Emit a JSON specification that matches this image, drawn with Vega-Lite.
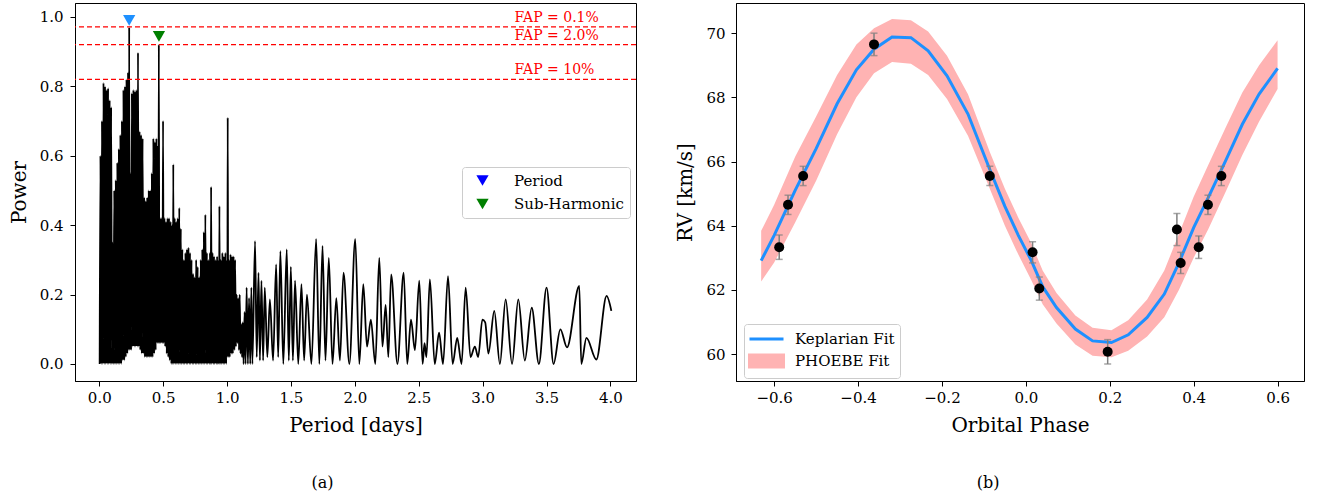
{
"$schema": "https://vega.github.io/schema/vega-lite/v6.json",
"padding": {"left": 8, "top": 2, "right": 10, "bottom": 5},
"spacing": 37,
"datasets": {
"pg": [
{"p":0.003,"pw":0.0},{"p":0.009,"pw":0.60},{"p":0.015,"pw":0.0},{"p":0.021,"pw":0.70},{"p":0.027,"pw":0.0},{"p":0.033,"pw":0.81},{"p":0.039,"pw":0.0},{"p":0.045,"pw":0.80},{"p":0.051,"pw":0.0},{"p":0.057,"pw":0.79},{"p":0.063,"pw":0.0},{"p":0.069,"pw":0.795},{"p":0.075,"pw":0.0},{"p":0.081,"pw":0.76},{"p":0.087,"pw":0.0},{"p":0.093,"pw":0.74},{"p":0.099,"pw":0.0},{"p":0.105,"pw":0.35},{"p":0.111,"pw":0.0},{"p":0.117,"pw":0.50},{"p":0.123,"pw":0.0},{"p":0.129,"pw":0.53},{"p":0.135,"pw":0.0},{"p":0.141,"pw":0.58},{"p":0.147,"pw":0.0},{"p":0.153,"pw":0.62},{"p":0.159,"pw":0.0},{"p":0.165,"pw":0.66},{"p":0.171,"pw":0.0},{"p":0.177,"pw":0.70},{"p":0.183,"pw":0.01},{"p":0.189,"pw":0.79},{"p":0.195,"pw":0.01},{"p":0.201,"pw":0.80},{"p":0.207,"pw":0.02},{"p":0.213,"pw":0.82},{"p":0.219,"pw":0.03},{"p":0.225,"pw":0.84},{"p":0.231,"pw":0.04},{"p":0.234,"pw":0.97},{"p":0.238,"pw":0.04},{"p":0.243,"pw":0.55},{"p":0.249,"pw":0.04},{"p":0.255,"pw":0.78},{"p":0.261,"pw":0.05},{"p":0.267,"pw":0.79},{"p":0.273,"pw":0.05},{"p":0.279,"pw":0.785},{"p":0.285,"pw":0.05},{"p":0.291,"pw":0.79},{"p":0.297,"pw":0.05},{"p":0.303,"pw":0.897},{"p":0.309,"pw":0.05},{"p":0.315,"pw":0.67},{"p":0.321,"pw":0.04},{"p":0.327,"pw":0.66},{"p":0.333,"pw":0.03},{"p":0.339,"pw":0.65},{"p":0.345,"pw":0.03},{"p":0.351,"pw":0.48},{"p":0.357,"pw":0.02},{"p":0.363,"pw":0.47},{"p":0.369,"pw":0.02},{"p":0.375,"pw":0.48},{"p":0.381,"pw":0.02},{"p":0.387,"pw":0.50},{"p":0.393,"pw":0.02},{"p":0.399,"pw":0.50},{"p":0.405,"pw":0.02},{"p":0.411,"pw":0.55},{"p":0.417,"pw":0.02},{"p":0.423,"pw":0.65},{"p":0.429,"pw":0.03},{"p":0.435,"pw":0.64},{"p":0.441,"pw":0.04},{"p":0.447,"pw":0.65},{"p":0.453,"pw":0.06},{"p":0.459,"pw":0.63},{"p":0.462,"pw":0.06},{"p":0.466,"pw":0.92},{"p":0.470,"pw":0.06},{"p":0.476,"pw":0.42},{"p":0.482,"pw":0.06},{"p":0.488,"pw":0.42},{"p":0.494,"pw":0.06},{"p":0.499,"pw":0.70},{"p":0.504,"pw":0.06},{"p":0.510,"pw":0.42},{"p":0.516,"pw":0.05},{"p":0.522,"pw":0.41},{"p":0.528,"pw":0.03},{"p":0.534,"pw":0.42},{"p":0.540,"pw":0.02},{"p":0.546,"pw":0.42},{"p":0.552,"pw":0.01},{"p":0.558,"pw":0.41},{"p":0.564,"pw":0.0},{"p":0.570,"pw":0.40},{"p":0.576,"pw":0.0},{"p":0.579,"pw":0.575},{"p":0.584,"pw":0.0},{"p":0.590,"pw":0.42},{"p":0.596,"pw":0.0},{"p":0.602,"pw":0.41},{"p":0.608,"pw":0.0},{"p":0.614,"pw":0.42},{"p":0.620,"pw":0.0},{"p":0.626,"pw":0.45},{"p":0.632,"pw":0.0},{"p":0.638,"pw":0.39},{"p":0.644,"pw":0.0},{"p":0.650,"pw":0.33},{"p":0.656,"pw":0.0},{"p":0.662,"pw":0.30},{"p":0.668,"pw":0.0},{"p":0.674,"pw":0.32},{"p":0.680,"pw":0.0},{"p":0.686,"pw":0.33},{"p":0.692,"pw":0.0},{"p":0.698,"pw":0.335},{"p":0.704,"pw":0.0},{"p":0.710,"pw":0.32},{"p":0.716,"pw":0.0},{"p":0.722,"pw":0.30},{"p":0.728,"pw":0.0},{"p":0.734,"pw":0.26},{"p":0.740,"pw":0.0},{"p":0.746,"pw":0.25},{"p":0.752,"pw":0.0},{"p":0.758,"pw":0.30},{"p":0.764,"pw":0.0},{"p":0.770,"pw":0.28},{"p":0.776,"pw":0.0},{"p":0.782,"pw":0.25},{"p":0.788,"pw":0.0},{"p":0.794,"pw":0.30},{"p":0.800,"pw":0.0},{"p":0.806,"pw":0.33},{"p":0.812,"pw":0.0},{"p":0.818,"pw":0.38},{"p":0.824,"pw":0.0},{"p":0.830,"pw":0.43},{"p":0.836,"pw":0.0},{"p":0.842,"pw":0.32},{"p":0.848,"pw":0.0},{"p":0.854,"pw":0.30},{"p":0.860,"pw":0.0},{"p":0.866,"pw":0.32},{"p":0.872,"pw":0.0},{"p":0.875,"pw":0.51},{"p":0.880,"pw":0.0},{"p":0.886,"pw":0.32},{"p":0.892,"pw":0.0},{"p":0.898,"pw":0.31},{"p":0.904,"pw":0.0},{"p":0.910,"pw":0.30},{"p":0.916,"pw":0.0},{"p":0.922,"pw":0.31},{"p":0.928,"pw":0.0},{"p":0.934,"pw":0.30},{"p":0.937,"pw":0.0},{"p":0.940,"pw":0.455},{"p":0.945,"pw":0.0},{"p":0.951,"pw":0.30},{"p":0.957,"pw":0.0},{"p":0.963,"pw":0.32},{"p":0.969,"pw":0.0},{"p":0.975,"pw":0.31},{"p":0.981,"pw":0.0},{"p":0.987,"pw":0.32},{"p":0.993,"pw":0.0},{"p":0.999,"pw":0.30},{"p":1.002,"pw":0.02},{"p":1.005,"pw":0.71},{"p":1.009,"pw":0.02},{"p":1.015,"pw":0.30},{"p":1.021,"pw":0.02},{"p":1.027,"pw":0.316},{"p":1.033,"pw":0.03},{"p":1.039,"pw":0.31},{"p":1.045,"pw":0.03},{"p":1.051,"pw":0.31},{"p":1.057,"pw":0.04},{"p":1.063,"pw":0.30},{"p":1.069,"pw":0.05},{"p":1.075,"pw":0.20},{"p":1.081,"pw":0.06},{"p":1.087,"pw":0.19},{"p":1.093,"pw":0.04},{"p":1.099,"pw":0.20},{"p":1.105,"pw":0.03},{"p":1.111,"pw":0.115},{"p":1.117,"pw":0.02},{"p":1.123,"pw":0.12},{"p":1.129,"pw":0.0},{"p":1.137,"pw":0.15},{"p":1.145,"pw":0.0},{"p":1.153,"pw":0.22},{"p":1.163,"pw":0.0},{"p":1.172,"pw":0.19},{"p":1.181,"pw":0.0},{"p":1.190,"pw":0.22},{"p":1.198,"pw":0.0},
{"p":1.219,"pw":0.354},{"p":1.232,"pw":0.02},{"p":1.246,"pw":0.263},{"p":1.257,"pw":0.01},{"p":1.269,"pw":0.24},{"p":1.282,"pw":0.01},{"p":1.295,"pw":0.22},{"p":1.315,"pw":0.02},{"p":1.335,"pw":0.186},{"p":1.36,"pw":0.01},{"p":1.384,"pw":0.287},{"p":1.40,"pw":0.02},{"p":1.417,"pw":0.325},{"p":1.44,"pw":0.0},{"p":1.467,"pw":0.33},{"p":1.483,"pw":0.01},{"p":1.499,"pw":0.28},{"p":1.515,"pw":0.01},{"p":1.532,"pw":0.24},{"p":1.557,"pw":0.0},{"p":1.582,"pw":0.23},{"p":1.603,"pw":0.01},{"p":1.625,"pw":0.20},{"p":1.66,"pw":0.0},{"p":1.697,"pw":0.36},{"p":1.722,"pw":0.0},{"p":1.747,"pw":0.34},{"p":1.77,"pw":0.01},{"p":1.796,"pw":0.306},{"p":1.825,"pw":0.0},{"p":1.855,"pw":0.19},{"p":1.883,"pw":0.01},{"p":1.911,"pw":0.263},{"p":1.957,"pw":0.0},{"p":2.003,"pw":0.36},{"p":2.035,"pw":0.0},{"p":2.066,"pw":0.23},{"p":2.095,"pw":0.05},{"p":2.125,"pw":0.128},{"p":2.16,"pw":0.0},{"p":2.191,"pw":0.306},{"p":2.216,"pw":0.05},{"p":2.241,"pw":0.17},{"p":2.262,"pw":0.02},{"p":2.284,"pw":0.258},{"p":2.333,"pw":0.0},{"p":2.382,"pw":0.263},{"p":2.41,"pw":0.0},{"p":2.439,"pw":0.128},{"p":2.47,"pw":0.04},{"p":2.504,"pw":0.24},{"p":2.53,"pw":0.0},{"p":2.545,"pw":0.06},{"p":2.56,"pw":0.02},{"p":2.587,"pw":0.244},{"p":2.625,"pw":0.0},{"p":2.659,"pw":0.09},{"p":2.69,"pw":0.0},{"p":2.729,"pw":0.253},{"p":2.765,"pw":0.0},{"p":2.801,"pw":0.075},{"p":2.835,"pw":0.0},{"p":2.867,"pw":0.22},{"p":2.905,"pw":0.02},{"p":2.939,"pw":0.05},{"p":2.965,"pw":0.02},{"p":2.998,"pw":0.128},{"p":3.02,"pw":0.12},{"p":3.045,"pw":0.03},{"p":3.091,"pw":0.153},{"p":3.135,"pw":0.0},{"p":3.18,"pw":0.186},{"p":3.23,"pw":0.0},{"p":3.279,"pw":0.186},{"p":3.33,"pw":0.01},{"p":3.384,"pw":0.162},{"p":3.44,"pw":0.0},{"p":3.5,"pw":0.22},{"p":3.555,"pw":0.0},{"p":3.608,"pw":0.10},{"p":3.66,"pw":0.048},{"p":3.756,"pw":0.225},{"p":3.772,"pw":0.0},{"p":3.812,"pw":0.075},{"p":3.89,"pw":0.013},{"p":3.97,"pw":0.196},{"p":4.007,"pw":0.153}
],
"fap": [
{"fap":0.971,"label":"FAP = 0.1%"},
{"fap":0.920,"label":"FAP = 2.0%"},
{"fap":0.820,"label":"FAP = 10%"}
],
"peaks": [
{"p":0.234,"pw":0.99,"kind":"Period"},
{"p":0.467,"pw":0.944,"kind":"Sub-Harmonic"}
],
"fit": [
{"ph":-0.631,"kep":62.91,"lo":62.26,"hi":63.84},
{"ph":-0.6,"kep":63.7,"lo":62.85,"hi":64.65},
{"ph":-0.55,"kep":65.1,"lo":64.1,"hi":66.15},
{"ph":-0.5,"kep":66.4,"lo":65.4,"hi":67.4},
{"ph":-0.45,"kep":67.8,"lo":66.85,"hi":68.7},
{"ph":-0.404,"kep":68.86,"lo":68.0,"hi":69.65},
{"ph":-0.362,"kep":69.5,"lo":68.75,"hi":70.15},
{"ph":-0.319,"kep":69.88,"lo":69.1,"hi":70.44},
{"ph":-0.274,"kep":69.86,"lo":69.05,"hi":70.4},
{"ph":-0.233,"kep":69.45,"lo":68.7,"hi":70.05},
{"ph":-0.188,"kep":68.67,"lo":67.95,"hi":69.3},
{"ph":-0.138,"kep":67.48,"lo":66.8,"hi":68.1},
{"ph":-0.086,"kep":65.75,"lo":65.15,"hi":66.3},
{"ph":-0.05,"kep":64.6,"lo":64.0,"hi":65.15},
{"ph":-0.018,"kep":63.7,"lo":63.1,"hi":64.25},
{"ph":0.013,"kep":62.91,"lo":62.3,"hi":63.45},
{"ph":0.04,"kep":62.1,"lo":61.55,"hi":62.6},
{"ph":0.073,"kep":61.45,"lo":60.95,"hi":61.9},
{"ph":0.118,"kep":60.78,"lo":60.3,"hi":61.2},
{"ph":0.159,"kep":60.41,"lo":59.95,"hi":60.82},
{"ph":0.204,"kep":60.36,"lo":59.9,"hi":60.74},
{"ph":0.244,"kep":60.6,"lo":60.1,"hi":61.05},
{"ph":0.289,"kep":61.14,"lo":60.55,"hi":61.7},
{"ph":0.33,"kep":61.87,"lo":61.15,"hi":62.6},
{"ph":0.365,"kep":62.85,"lo":62.0,"hi":63.75},
{"ph":0.4,"kep":63.94,"lo":63.0,"hi":64.9},
{"ph":0.435,"kep":64.88,"lo":63.9,"hi":65.9},
{"ph":0.476,"kep":66.02,"lo":65.05,"hi":67.05},
{"ph":0.516,"kep":67.16,"lo":66.2,"hi":68.15},
{"ph":0.556,"kep":68.1,"lo":67.25,"hi":69.0},
{"ph":0.6,"kep":68.9,"lo":68.26,"hi":69.78}
],
"rv": [
{"ph":-0.588,"v":63.33,"lo":62.95,"hi":63.71},
{"ph":-0.567,"v":64.65,"lo":64.35,"hi":64.95},
{"ph":-0.531,"v":65.55,"lo":65.25,"hi":65.85},
{"ph":-0.362,"v":69.65,"lo":69.3,"hi":70.0},
{"ph":-0.086,"v":65.55,"lo":65.25,"hi":65.85},
{"ph":0.016,"v":63.17,"lo":62.84,"hi":63.5},
{"ph":0.032,"v":62.04,"lo":61.68,"hi":62.4},
{"ph":0.195,"v":60.07,"lo":59.69,"hi":60.45},
{"ph":0.36,"v":63.88,"lo":63.38,"hi":64.38},
{"ph":0.369,"v":62.84,"lo":62.51,"hi":63.17},
{"ph":0.412,"v":63.33,"lo":62.98,"hi":63.68},
{"ph":0.434,"v":64.65,"lo":64.35,"hi":64.95},
{"ph":0.466,"v":65.55,"lo":65.25,"hi":65.85}
]
},
"hconcat": [
{
"width": 561, "height": 378,
"title": {"text": "(a)", "orient": "bottom", "offset": 40, "dx": -33, "fontSize": 16, "fontWeight": "normal", "font": "DejaVu Serif", "anchor": "middle"},
"layer": [
{"data": {"name": "pg"},
 "mark": {"type": "line", "color": "black", "strokeWidth": 1.8, "interpolate": "monotone"},
 "encoding": {
  "x": {"field": "p", "type": "quantitative", "title": "Period [days]", "scale": {"domain": [-0.19, 4.2], "nice": false, "zero": false}, "axis": {"values": [0,0.5,1,1.5,2,2.5,3,3.5,4], "format": ".1f"}},
  "y": {"field": "pw", "type": "quantitative", "title": "Power", "scale": {"domain": [-0.049, 1.04], "nice": false, "zero": false}, "axis": {"values": [0,0.2,0.4,0.6,0.8,1.0], "format": ".1f", "labelPadding": 7}}
 }},
{"data": {"name": "fap"},
 "mark": {"type": "rule", "color": "red", "strokeDash": [5, 3], "strokeWidth": 1.2},
 "encoding": {"y": {"field": "fap", "type": "quantitative", "title": "Power"}}},
{"data": {"name": "fap"},
 "mark": {"type": "text", "color": "red", "align": "left", "baseline": "bottom", "dy": -2, "font": "DejaVu Serif", "fontSize": 14},
 "encoding": {"x": {"datum": 3.25}, "y": {"field": "fap", "type": "quantitative", "title": "Power"}, "text": {"field": "label"}}},
{"data": {"name": "peaks"},
 "mark": {"type": "point", "shape": "triangle-down", "filled": true, "size": 150, "opacity": 0},
 "encoding": {
  "x": {"field": "p", "type": "quantitative", "title": "Period [days]"},
  "y": {"field": "pw", "type": "quantitative", "title": "Power"},
  "color": {"field": "kind", "type": "nominal", "scale": {"domain": ["Period", "Sub-Harmonic"], "range": ["#0000ff", "#008000"]},
   "legend": {"title": null, "orient": "none", "legendX": 387, "legendY": 164, "symbolType": "triangle-down", "symbolSize": 150, "symbolStrokeWidth": 0, "symbolOpacity": 1, "labelFontSize": 15, "labelFont": "DejaVu Serif", "padding": 6, "rowPadding": 7.5, "labelOffset": 24, "symbolOffset": 7, "strokeColor": "#cccccc", "fillColor": "white", "cornerRadius": 3}
  }
 }},
{"data": {"name": "peaks"},
 "mark": {"type": "point", "shape": "triangle-down", "filled": true, "size": 150, "opacity": 1, "strokeWidth": 0},
 "encoding": {
  "x": {"field": "p", "type": "quantitative", "title": "Period [days]"},
  "y": {"field": "pw", "type": "quantitative", "title": "Power"},
  "fill": {"condition": {"test": "datum.kind === 'Period'", "value": "#1e90ff"}, "value": "#008000"}
 }}
]
},
{
"width": 568, "height": 378,
"title": {"text": "(b)", "orient": "bottom", "offset": 40, "dx": -32, "fontSize": 16, "fontWeight": "normal", "font": "DejaVu Serif", "anchor": "middle"},
"layer": [
{"data": {"name": "fit"},
 "mark": {"type": "area", "opacity": 1},
 "encoding": {
  "x": {"field": "ph", "type": "quantitative", "title": "Orbital Phase", "scale": {"domain": [-0.691, 0.663], "nice": false, "zero": false}, "axis": {"values": [-0.6,-0.4,-0.2,0,0.2,0.4,0.6], "format": ".1f"}},
  "y": {"field": "lo", "type": "quantitative", "title": "RV [km/s]", "scale": {"domain": [59.16, 70.94], "nice": false, "zero": false}, "axis": {"values": [60,62,64,66,68,70], "format": "d", "labelPadding": 6}},
  "y2": {"field": "hi", "title": "RV [km/s]"},
  "color": {"datum": "PHOEBE Fit"}
 }},
{"data": {"name": "fit"},
 "mark": {"type": "line", "strokeWidth": 3},
 "encoding": {
  "x": {"field": "ph", "type": "quantitative", "title": "Orbital Phase"},
  "y": {"field": "kep", "type": "quantitative", "title": "RV [km/s]"},
  "color": {"datum": "Keplarian Fit", "scale": {"domain": ["Keplarian Fit", "PHOEBE Fit"], "range": ["#1e90ff", "#ffb3b3"]},
   "legend": {"title": null, "orient": "none", "legendX": 8, "legendY": 321, "symbolSize": 289, "labelFontSize": 15, "labelFont": "DejaVu Serif", "padding": 5, "rowPadding": 2, "labelOffset": 18.5, "symbolOffset": 7.5, "strokeColor": "#cccccc", "fillColor": "white", "cornerRadius": 3,
    "encode": {"symbols": {"update": {
      "shape": {"signal": "datum.value === 'Keplarian Fit' ? 'M-2,0H2' : 'M-2,-0.7H2V0.7H-2Z'"},
      "fill": {"signal": "datum.value === 'Keplarian Fit' ? 'transparent' : '#ffb3b3'"},
      "stroke": {"signal": "datum.value === 'Keplarian Fit' ? '#1e90ff' : 'transparent'"},
      "strokeWidth": {"value": 3}, "opacity": {"value": 1}, "fillOpacity": {"value": 1}, "strokeOpacity": {"value": 1}}}}}
  }
 }},
{"data": {"name": "rv"},
 "mark": {"type": "errorbar", "ticks": true, "color": "#808080", "thickness": 1.5, "size": 7},
 "encoding": {
  "x": {"field": "ph", "type": "quantitative", "title": "Orbital Phase"},
  "y": {"field": "lo", "type": "quantitative", "title": "RV [km/s]"},
  "y2": {"field": "hi", "title": "RV [km/s]"}
 }},
{"data": {"name": "rv"},
 "mark": {"type": "circle", "color": "black", "size": 100, "opacity": 1},
 "encoding": {
  "x": {"field": "ph", "type": "quantitative", "title": "Orbital Phase"},
  "y": {"field": "v", "type": "quantitative", "title": "RV [km/s]"}
 }}
]
}
],
"resolve": {"scale": {"color": "independent"}, "legend": {"color": "independent"}},
"config": {
 "font": "DejaVu Serif",
 "view": {"stroke": "black", "strokeWidth": 1},
 "axis": {"domainColor": "black", "tickColor": "black", "labelColor": "black", "titleColor": "black", "labelFont": "DejaVu Serif", "titleFont": "DejaVu Serif", "labelFontSize": 15, "titleFontSize": 20, "titleFontWeight": "normal", "grid": false, "tickSize": 5, "labelPadding": 4, "titlePadding": 10},
 "legend": {"labelColor": "black"}
}
}
